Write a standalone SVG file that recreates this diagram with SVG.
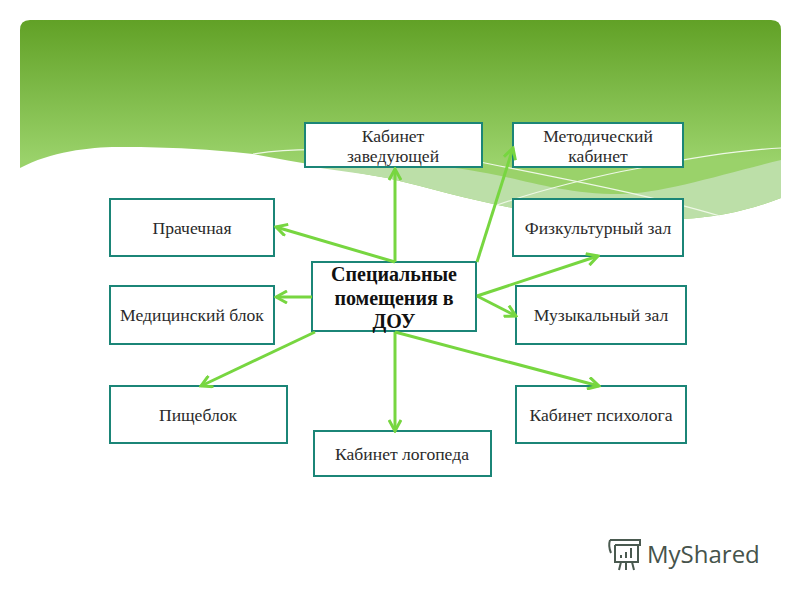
<svg xmlns="http://www.w3.org/2000/svg" width="800" height="600" viewBox="0 0 800 600">
<style>
.n{fill:#fff;stroke:#1b8577;stroke-width:2}
.t{font-family:"Liberation Serif",serif;font-size:17.6px;fill:#2a2a2a;text-anchor:middle}
.b{font-weight:bold;font-size:20px;fill:#111}
.c{fill:none;stroke:#77d640;stroke-width:3}
.w{fill:none;stroke:#eef8e6;stroke-width:1.2}
.l{fill:none;stroke:#4a5a50;stroke-width:2}
</style>
<defs>
<linearGradient id="g" gradientUnits="userSpaceOnUse" x1="0" y1="20" x2="0" y2="160"><stop offset="0" stop-color="#61a126"/><stop offset="1" stop-color="#9ad26a"/></linearGradient>
<marker id="a" markerUnits="userSpaceOnUse" markerWidth="14" markerHeight="14" refX="12" refY="7" orient="auto"><path d="M1 1L12 7L1 13" fill="none" stroke="#77d640" stroke-width="3"/></marker>
</defs>
<rect width="800" height="600" fill="#fff"/>
<g id="background">
<path d="M30 20H771Q781 20 781 30V198C750 210 720 217 683 219C640 220 570 218 513 208C470 200 430 188 387 178C350 171 300 163 253 154C200 148 160 147 117 147C90 147 50 152 20 168V30Q20 20 30 20Z" fill="url(#g)"/>
<path d="M303 165C370 160 440 164 480 172C520 178 560 194 620 194C660 194 720 175 781 160V198C750 210 720 217 683 219C640 220 570 218 513 208C470 200 430 188 387 178C360 173 330 170 303 165Z" fill="#bcdfa8"/>
<path class="w" d="M253 154C280 150 300 149 330 150C400 150 450 155 480 162C560 178 650 195 720 216"/>
<path class="w" d="M497 205C540 190 600 175 640 168C690 158 740 150 781 148"/>
</g>
<g id="n1"><rect class="n" x="305" y="123" width="177" height="44"/><text class="t" x="393" y="142">Кабинет</text><text class="t" x="393" y="162">заведующей</text></g>
<g id="n2"><rect class="n" x="513" y="123" width="170" height="44"/><text class="t" x="598" y="142">Методический</text><text class="t" x="598" y="162">кабинет</text></g>
<g id="n3"><rect class="n" x="110" y="199" width="164" height="57"/><text class="t" x="192" y="234">Прачечная</text></g>
<g id="n4"><rect class="n" x="513" y="199" width="170" height="57"/><text class="t" x="598" y="234">Физкультурный зал</text></g>
<g id="n5"><rect class="n" x="110" y="286" width="164" height="58"/><text class="t" x="192" y="321">Медицинский блок</text></g>
<g id="n6"><rect class="n" x="516" y="286" width="170" height="58"/><text class="t" x="601" y="321">Музыкальный зал</text></g>
<g id="n7"><rect class="n" x="110" y="386" width="177" height="57"/><text class="t" x="198" y="421">Пищеблок</text></g>
<g id="n8"><rect class="n" x="516" y="386" width="170" height="57"/><text class="t" x="601" y="421">Кабинет психолога</text></g>
<g id="n9"><rect class="n" x="314" y="431" width="177" height="45"/><text class="t" x="402" y="460">Кабинет логопеда</text></g>
<g id="center"><rect class="n" x="312" y="262" width="164" height="69"/><text class="t b" x="394" y="281">Специальные</text><text class="t b" x="394" y="305">помещения в</text><text class="t b" x="394" y="328">ДОУ</text></g>
<g id="connectors">
<path class="c" d="M395 262V169" marker-end="url(#a)"/>
<path class="c" d="M477 262L513 148" marker-end="url(#a)"/>
<path class="c" d="M395 262L276 227" marker-end="url(#a)"/>
<path class="c" d="M312 297H276" marker-end="url(#a)"/>
<path class="c" d="M477 296L598 256" marker-end="url(#a)"/>
<path class="c" d="M477 296L516 316" marker-end="url(#a)"/>
<path class="c" d="M315 332L201 386" marker-end="url(#a)"/>
<path class="c" d="M395 332V431" marker-end="url(#a)"/>
<path class="c" d="M395 332L599 386" marker-end="url(#a)"/>
</g>
<g id="logo"><path class="l" d="M615 545V562H638V545M610 540H640V545H615M610 540Q608 546 611 553M621 558V555M626 558V552M631 558V548M621 562L619 570M626 562V570M632 562L634 570"/><text x="647" y="563" font-family="'Open Sans',sans-serif" font-size="24" fill="#46534b">MyShared</text></g>
</svg>
